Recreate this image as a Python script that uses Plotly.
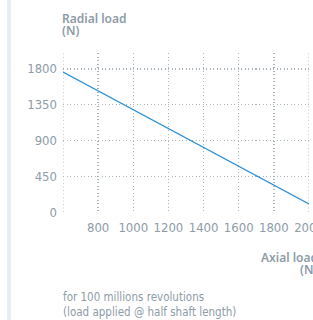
import plotly.graph_objects as go

axial_load = [600, 2000]
radial_load = [1760, 100]
x_ticks = [800, 1000, 1200, 1400, 1600, 1800, 2000]
y_ticks = [0, 450, 900, 1350, 1800]

GRAY = "#8d9ca7"
GRID = "#a9b5be"
W, H = 313, 320
L, R, T, B = 63, 309, 53, 212

def px_x(p):
    return (p - L) / (R - L)

def px_y(p):
    return (B - p) / (B - T)

COND = "Liberation Sans Narrow, DejaVu Sans Condensed, Arial Narrow, sans-serif"

fig = go.Figure()
fig.add_trace(go.Scatter(x=axial_load, y=radial_load, mode="lines",
                         line=dict(color="#2b8ed6", width=1.3), hoverinfo="skip"))

tickfont = dict(family=COND, size=13, color=GRAY)
DASH = "1px,2.5px"

fig.update_layout(
    width=W, height=H,
    margin=dict(l=L, r=W - R, t=T, b=H - B, autoexpand=False),
    paper_bgcolor="white", plot_bgcolor="white",
    showlegend=False, hovermode=False,
    xaxis=dict(range=[600, 2000], tickvals=x_ticks, ticktext=[str(v) for v in x_ticks],
               showgrid=True, gridcolor=GRID, griddash=DASH, gridwidth=1.3,
               zeroline=False, showline=False, ticks="", tickfont=tickfont,
               ticklabelstandoff=6, ticklabeloverflow="allow", tickangle=0,
               automargin=False),
    yaxis=dict(range=[0, 2000], tickvals=y_ticks, ticktext=[str(v) for v in y_ticks],
               showgrid=True, gridcolor=GRID, griddash=DASH, gridwidth=1.3,
               zeroline=False, showline=False, ticks="", tickfont=tickfont,
               ticklabelstandoff=5, automargin=False),
    font=dict(family="Noto Sans, sans-serif", color=GRAY),
)

# dotted vertical lines at the range edges (x=600 and x=2000)
for xv in (axial_load[0], x_ticks[-1]):
    fig.add_shape(type="line", xref="x", yref="paper", x0=xv, x1=xv, y0=0, y1=1,
                  line=dict(color=GRID, width=1.3, dash=DASH))

# light vertical bar on the left edge
fig.add_shape(type="rect", xref="paper", yref="paper",
              x0=px_x(7), x1=px_x(11), y0=px_y(320), y1=px_y(0),
              fillcolor="#e8eef1", line=dict(width=0), layer="below")

titlefont = dict(family="Noto Sans, sans-serif", size=12, color=GRAY, weight=600)

def label(text, x, y):
    fig.add_annotation(xref="paper", yref="paper", x=px_x(x), y=px_y(y),
                       xanchor="left", yanchor="top", showarrow=False, align="left",
                       text=text, font=titlefont, borderpad=0)

label("Radial load", 61, 9)
label("(N)", 61, 21)
label("Axial load", 260, 248)
label("(N)", 299, 260)

fig.add_annotation(xref="paper", yref="paper", x=px_x(61), y=px_y(288),
                   xanchor="left", yanchor="top", showarrow=False, align="left",
                   text="for 100 millions revolutions<br>(load applied @ half shaft length)",
                   font=dict(family=COND, size=11.5, color=GRAY, weight=500))

fig.write_html("out.html", config={"displayModeBar": False, "staticPlot": True},
               post_script="document.body.style.margin='0';document.body.style.overflow='hidden';")
